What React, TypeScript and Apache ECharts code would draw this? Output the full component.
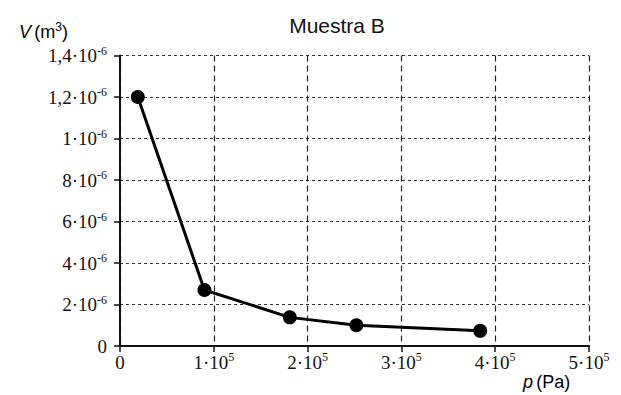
import React, { useEffect, useRef } from "react";
import * as echarts from "echarts";

const pressure = [0.19e5, 0.9e5, 1.81e5, 2.52e5, 3.84e5];
const volume = [1.2e-6, 2.7e-7, 1.38e-7, 1.0e-7, 0.73e-7];
const xTickLabels = ["0", "1·10^5", "2·10^5", "3·10^5", "4·10^5", "5·10^5"];
const yTickLabels = ["0", "2·10^-6", "4·10^-6", "6·10^-6", "8·10^-6", "1·10^-6", "1,2·10^-6", "1,4·10^-6"];
const title = "Muestra B";

const toRich = (s: string) => {
  const parts = s.split("^");
  return parts.length === 1 ? `{b|${parts[0]}}` : `{b|${parts[0]}}{s|${parts[1]}}`;
};

const tickFont = "Liberation Serif";

export default function App() {
  const ref = useRef<HTMLDivElement>(null);
  useEffect(() => {
    if (!ref.current) return;
    const chart = echarts.init(ref.current, null, { renderer: "svg" });
    const rich = {
      b: { fontFamily: tickFont, fontSize: 19, color: "#111", lineHeight: 22 },
      s: { fontFamily: tickFont, fontSize: 12, color: "#111", verticalAlign: "top", lineHeight: 22 },
    };
    const axisLabelBase = { fontFamily: tickFont, fontSize: 19, color: "#111", rich };
    const nameRich = {
      i: { fontFamily: "Liberation Sans", fontStyle: "italic", fontSize: 18, color: "#111", lineHeight: 22 },
      n: { fontFamily: "Liberation Sans", fontSize: 18, color: "#111", lineHeight: 22 },
      s: { fontFamily: "Liberation Sans", fontSize: 12, color: "#111", verticalAlign: "top", lineHeight: 22 },
    };
    chart.setOption({
      animation: false,
      backgroundColor: "#fff",
      title: {
        text: title,
        left: 332,
        top: 10,
        textAlign: "center",
        textStyle: { fontFamily: "Liberation Sans", fontSize: 21, fontWeight: "normal", color: "#111" },
      },
      grid: { left: 120, right: 32, top: 55.5, bottom: 49 },
      xAxis: {
        type: "value",
        min: 0,
        max: 5e5,
        interval: 1e5,
        axisLine: { show: true, lineStyle: { color: "#111", width: 2 } },
        axisTick: { show: true, length: 6, lineStyle: { color: "#111", width: 1.5 } },
        splitLine: { show: true, lineStyle: { color: "#222", width: 1.2, type: [6, 4] } },
        axisLabel: {
          ...axisLabelBase,
          margin: 5,
          formatter: (v: number) => toRich(xTickLabels[Math.round(v / 1e5)] ?? ""),
        },
      },
      yAxis: {
        type: "value",
        min: 0,
        max: 1.4e-6,
        interval: 2e-7,
        axisLine: { show: true, lineStyle: { color: "#111", width: 2 } },
        axisTick: { show: true, length: 6, lineStyle: { color: "#111", width: 1.5 } },
        splitLine: { show: true, lineStyle: { color: "#333", width: 1, type: [3, 3] } },
        axisLabel: {
          ...axisLabelBase,
          margin: 13,
          formatter: (v: number) => toRich(yTickLabels[Math.round(v / 2e-7)] ?? ""),
        },
      },
      graphic: [
        {
          type: "text",
          x: 19,
          y: 32,
          style: {
            text: "{i|V} {n|(m}{s|3}{n|)}",
            verticalAlign: "middle",
            rich: nameRich,
          },
        },
        {
          type: "text",
          x: 523,
          y: 382,
          style: {
            text: "{i|p} {n|(Pa)}",
            verticalAlign: "middle",
            rich: nameRich,
          },
        },
      ],
      series: [
        {
          type: "line",
          data: pressure.map((p, i) => [p, volume[i]]),
          symbol: "circle",
          symbolSize: 14,
          lineStyle: { color: "#000", width: 3 },
          itemStyle: { color: "#000" },
          z: 5,
        },
      ],
    });
    return () => chart.dispose();
  }, []);
  return (
    <div
      ref={ref}
      style={{ position: "absolute", left: 0, top: 0, width: 621, height: 395 }}
    />
  );
}
